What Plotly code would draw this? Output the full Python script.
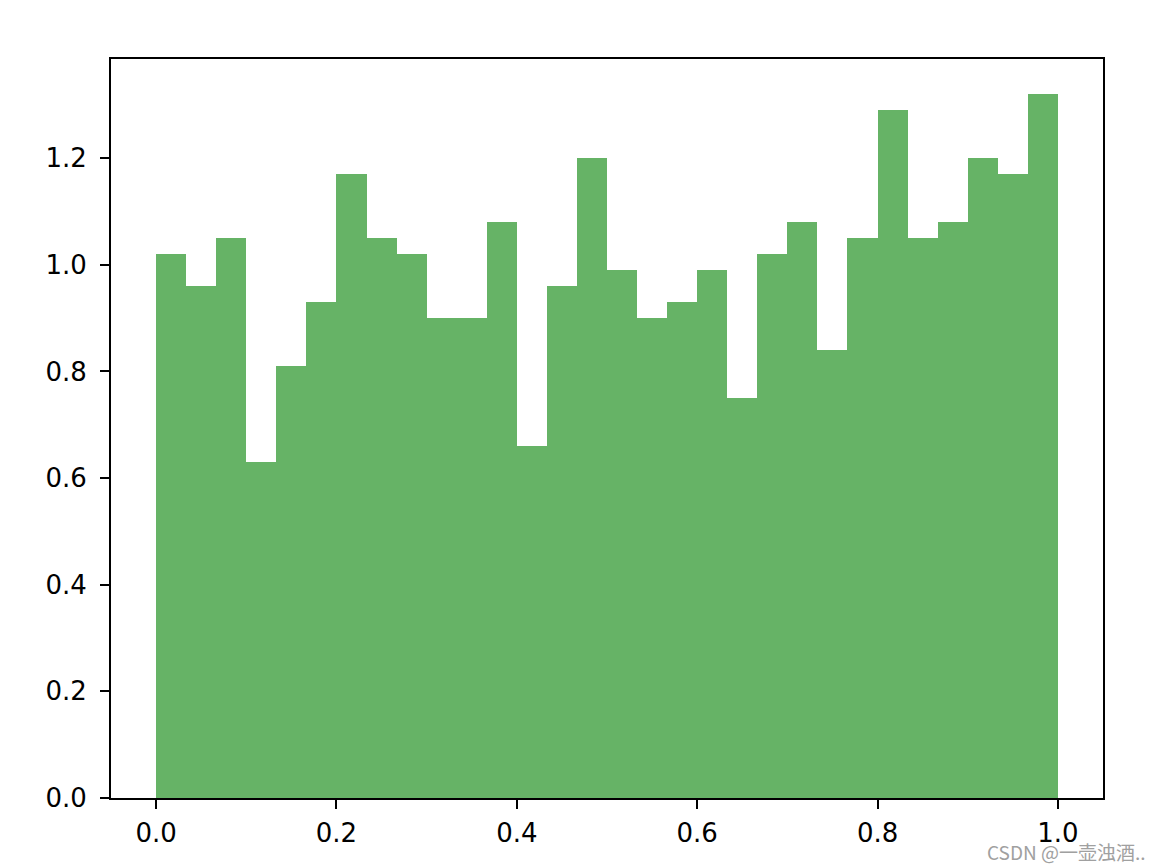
import numpy as np
import plotly.graph_objects as go

# density histogram, 30 bins over [0, 1]
bin_edges = np.linspace(0.0, 1.0, 31)
density = [1.02, 0.96, 1.05, 0.63, 0.81, 0.93, 1.17, 1.05, 1.02, 0.90,
           0.90, 1.08, 0.66, 0.96, 1.20, 0.99, 0.90, 0.93, 0.99, 0.75,
           1.02, 1.08, 0.84, 1.05, 1.29, 1.05, 1.08, 1.20, 1.17, 1.32]
x_ticks = [0.0, 0.2, 0.4, 0.6, 0.8, 1.0]
y_ticks = [0.0, 0.2, 0.4, 0.6, 0.8, 1.0, 1.2]

centers = (bin_edges[:-1] + bin_edges[1:]) / 2
widths = np.diff(bin_edges)

fig = go.Figure(go.Bar(
    x=centers, y=density, width=widths,
    marker=dict(color="rgba(0,128,0,0.6)", line=dict(width=0)),
    hoverinfo="x+y",
))

axis_style = dict(
    showline=True, linecolor="black", linewidth=2, mirror=True,
    ticks="outside", ticklen=9, tickwidth=2, tickcolor="black",
    showgrid=False, zeroline=False, tickformat=".1f",
    tickfont=dict(family="DejaVu Sans", size=26, color="black"),
)

fig.update_layout(
    width=1163, height=867,
    margin=dict(l=103, r=68, t=51, b=77),
    plot_bgcolor="white", paper_bgcolor="white",
    showlegend=False, bargap=0,
    xaxis=dict(range=[-0.05, 1.05], tickvals=x_ticks, ticklabelstandoff=2,
               **axis_style),
    yaxis=dict(range=[0, 1.386], tickvals=y_ticks, ticklabelstandoff=8,
               **axis_style),
    annotations=[dict(
        text="CSDN @一壶浊酒..", xref="paper", yref="paper",
        x=1.0, y=0, xanchor="right", yanchor="top", yshift=-38, xshift=45,
        showarrow=False,
        font=dict(family="Noto Sans CJK SC", size=19, color="#a0a0a0"),
    )],
)

fig.write_html("out.html")
